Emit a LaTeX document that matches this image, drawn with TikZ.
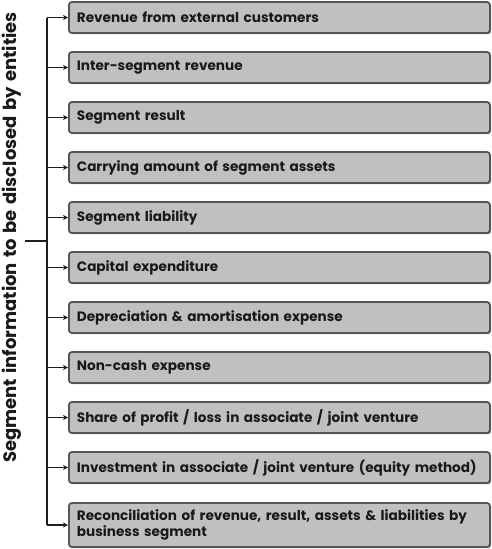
\documentclass[tikz,border=0pt]{standalone}
\usepackage{fontspec}
\setmainfont{Poppins}
\usetikzlibrary{arrows.meta,shadows}
\definecolor{boxfill}{RGB}{192,192,192}
\definecolor{boxline}{RGB}{85,85,85}
\definecolor{inkline}{RGB}{30,30,30}
\tikzset{
  segbox/.style={draw=boxline, line width=1.8pt, fill=boxfill, rounded corners=3pt,
    anchor=west, minimum width=421pt, minimum height=31pt, text width=405pt,
    inner xsep=8pt, align=left, font=\fontsize{13.6}{15.5}\selectfont\bfseries,
    text=black!90,
    drop shadow={shadow xshift=1.2pt, shadow yshift=-1.2pt, fill=black!55, opacity=0.8}},
  feed/.style={draw=inkline, line width=1.3pt, -{Stealth[length=5pt,width=5pt]}},
  trunk/.style={draw=inkline, line width=1.3pt}
}
\begin{document}
\begin{tikzpicture}[x=1pt,y=-1pt]
\useasboundingbox (0,0) rectangle (491,549);
% item boxes
\node[segbox] (b1)  at (68,17.5)  {Revenue from external customers};
\node[segbox] (b2)  at (68,67.5)  {Inter-segment revenue};
\node[segbox] (b3)  at (68,117.5) {Segment result};
\node[segbox] (b4)  at (68,167.5) {Carrying amount of segment assets};
\node[segbox] (b5)  at (68,217.5) {Segment liability};
\node[segbox] (b6)  at (68,267.5) {Capital expenditure};
\node[segbox] (b7)  at (68,317.5) {Depreciation \& amortisation expense};
\node[segbox] (b8)  at (68,367.5) {Non-cash expense};
\node[segbox] (b9)  at (68,417.5) {Share of profit / loss in associate / joint venture};
\node[segbox] (b10) at (68,467.5) {Investment in associate / joint venture (equity method)};
\node[segbox, minimum height=44pt] (b11) at (68,525)
  {Reconciliation of revenue, result, assets \& liabilities by\\business segment};
% vertical heading, with slightly wider word spaces
\node[rotate=90, font=\fontsize{18}{20}\selectfont\bfseries, text=black!90] (head) at (12,237.5)
  {\spaceskip=0.3em\relax Segment information to be disclosed by entities};
% bracket
\coordinate (hub) at (47,241);
\coordinate (stub) at (25,241);
\draw[trunk] (stub) -- (hub);
\draw[trunk] (hub |- b1.west) -- (hub |- b11.west);
\foreach \i in {1,...,11}
  \draw[feed] (hub |- b\i.west) -- (b\i.west);
\end{tikzpicture}
\end{document}
